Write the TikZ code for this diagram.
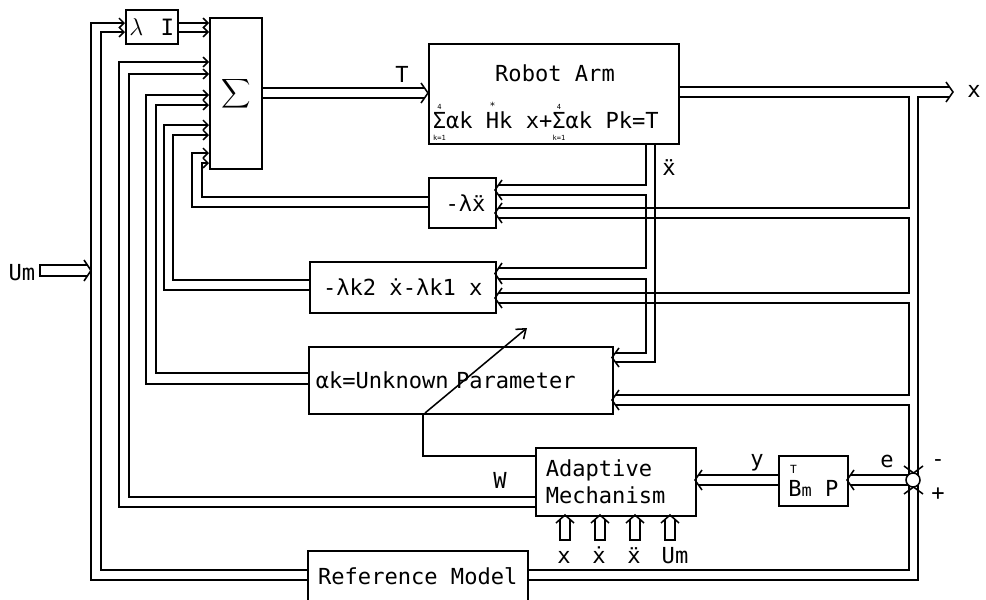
\documentclass[tikz,border=0pt]{standalone}
\usepackage{fontspec}
\usepackage{graphicx}
\setmainfont{DejaVu Sans Mono}
\usetikzlibrary{arrows.meta}
\def\pxu{0.025cm}
% pair chevrons: tip coordinate and the two line positions
\newcommand\chevR[3]{\draw (#1-7,#2-5) -- (#1,{(#2+#3)/2}) -- (#1-7,#3+5);}
\newcommand\chevL[3]{\draw (#1+7,#2-5) -- (#1,{(#2+#3)/2}) -- (#1+7,#3+5);}
\newcommand\chevD[3]{\draw (#1-5,#3-7) -- ({(#1+#2)/2},#3) -- (#2+5,#3-7);}
\newcommand\chevU[3]{\draw (#1-5,#3+7) -- ({(#1+#2)/2},#3) -- (#2+5,#3+7);}
\newcommand\plsum[2]{\ensuremath{\mathop{\mbox{Σ}}\limits^{\mbox{\tiny #1}}_{\mbox{\tiny\raisebox{-2.5pt}{#2}}}}}
\begin{document}
\begin{tikzpicture}[x=\pxu, y=-\pxu, line width=1.1pt,
  font=\fontsize{15.7}{19.2}\selectfont,
  box/.style={draw, inner sep=0pt, anchor=north west},
  barb/.style={-{Straight Barb[length=3.5pt,width=7pt]}},
  bigbarb/.style={-{Straight Barb[length=6pt,width=9pt]}},
  lbl/.style={inner sep=0pt, anchor=base}]
\useasboundingbox (0,0) rectangle (986,599);
\clip (0,0) rectangle (986,599);

% ---------- blocks ----------
\node[box, minimum width={52*\pxu}, minimum height={34*\pxu}] (lamI) at (125,9)
  {\fontsize{16}{16}\selectfont$\lambda\ \,\mathrm{I}$};
\node[box, minimum width={52*\pxu}, minimum height={151*\pxu}] (sigma) at (209,17)
  {\scalebox{1.45}{$\displaystyle\sum$}};
\node[box, minimum width={250*\pxu}, minimum height={100*\pxu}] (robot) at (428,43) {};
\node[inner sep=0pt] (robottitle) at (555,73) {Robot Arm};
\node[inner sep=0pt, anchor=west] (roboteq) at (432,121)
  {\plsum{4}{k=1}αk $\stackrel{\mbox{\scriptsize *}}{\mbox{H}}$k x+\plsum{4}{k=1}αk Pk=T};
\node[box, minimum width={67*\pxu}, minimum height={50*\pxu}] (lxdd) at (428,177) {\hspace{0.3em}-λẍ};
\node[box, minimum width={186*\pxu}, minimum height={51*\pxu}] (lk) at (309,261) {-λk2 ẋ-λk1 x};
\node[box, minimum width={304*\pxu}, minimum height={67*\pxu}, text width={290*\pxu},
  inner xsep={7*\pxu}, align=left] (unk) at (308,346) {αk=Unknown Parameter};
\node[box, minimum width={160*\pxu}, minimum height={68*\pxu}, text width={140*\pxu},
  inner xsep={10*\pxu}, align=left] (am) at (535,447) {Adaptive\\Mechanism};
\node[box, minimum width={69*\pxu}, minimum height={50*\pxu}] (bmp) at (778,455)
  {\raisebox{-2pt}{\rlap{\raisebox{16pt}{\fontsize{8}{8}\selectfont\,T}}B{\fontsize{12}{12}\selectfont m} P}};
\node[box, minimum width={220*\pxu}, minimum height={50*\pxu}] (ref) at (307,550) {Reference Model};
\node[circle, draw, minimum size={14*\pxu}, inner sep=0pt] (sum) at (913,480) {};

% ---------- labels ----------
\node[lbl] (lT) at (402,82) {T};
\node[lbl] (lxout) at (974,97) {x};
\node[lbl] (lxdd2) at (669,175) {ẍ};
\node[lbl] (lW) at (500,488) {W};
\node[lbl] (ly) at (757,466) {y};
\node[lbl] (le) at (887,467) {e};
\node[inner sep=0pt] (lminus) at (938,463) {-};
\node[inner sep=0pt] (lplus) at (938,494) {+};
\node[lbl] (lUm) at (22,280) {Um};
\node[lbl] (ax) at (564,563) {x};
\node[lbl] (axd) at (599,563) {ẋ};
\node[lbl] (axdd) at (634,563) {ẍ};
\node[lbl] (aum) at (675,563) {Um};

% ---------- Um input ----------
\draw (87,265) -- (40,265) -- (40,276) -- (87,276);
\draw (84,260) -- (91,270.5) -- (84,281);

% ---------- lambda I and Sigma ----------
\draw[barb] (lamI.east |- 0,23) -- (sigma.west |- 0,23);
\draw[barb] (lamI.east |- 0,32) -- (sigma.west |- 0,32);
\draw[barb] (ref.west |- 0,570) -- (101,570) -- (101,32) -- (lamI.west |- 0,32);
\draw[barb] (ref.west |- 0,580) -- (91,580) -- (91,23) -- (lamI.west |- 0,23);
\draw[barb] (am.west |- 0,497) -- (129,497) -- (129,74) -- (sigma.west |- 0,74);
\draw[barb] (am.west |- 0,507) -- (119,507) -- (119,62) -- (sigma.west |- 0,62);
\draw[barb] (unk.west |- 0,373) -- (156,373) -- (156,105) -- (sigma.west |- 0,105);
\draw[barb] (unk.west |- 0,384) -- (146,384) -- (146,95) -- (sigma.west |- 0,95);
\draw[barb] (lk.west |- 0,280) -- (173,280) -- (173,135) -- (sigma.west |- 0,135);
\draw[barb] (lk.west |- 0,290) -- (164,290) -- (164,125) -- (sigma.west |- 0,125);
\draw[barb] (lxdd.west |- 0,197) -- (202,197) -- (202,163) -- (sigma.west |- 0,163);
\draw[barb] (lxdd.west |- 0,207) -- (192,207) -- (192,153) -- (sigma.west |- 0,153);

% ---------- T into robot arm ----------
\draw (sigma.east |- 0,88) -- (425,88);
\draw (sigma.east |- 0,98) -- (425,98);
\chevR{428}{88}{98}

% ---------- x output and its branches ----------
\draw (robot.east |- 0,87) -- (950,87);
\draw (robot.east |- 0,97) -- (909,97) -- (909,208) -- (498,208);
\draw (950,97) -- (918,97) -- (918,475);
\chevR{953}{87}{97}
\draw (498,218) -- (909,218) -- (909,293) -- (498,293);
\draw (498,303) -- (909,303) -- (909,395) -- (615,395);
\draw (615,405) -- (909,405) -- (909,474);
\chevL{495}{208}{218}
\chevL{495}{293}{303}
\chevL{612}{395}{405}
\chevD{909}{918}{473}

% ---------- x double-dot output and its branches ----------
\draw (646,143) -- (646,185) -- (498,185);
\draw (498,195) -- (646,195) -- (646,268) -- (498,268);
\draw (498,279) -- (646,279) -- (646,353) -- (615,353);
\draw (615,362) -- (655,362) -- (655,143);
\chevL{495}{185}{195}
\chevL{495}{268}{279}
\chevL{612}{353}{362}

% ---------- reference model to junction ----------
\draw (ref.east |- 0,570) -- (909,570) -- (909,486);
\draw (ref.east |- 0,580) -- (918,580) -- (918,485);
\chevU{909}{918}{487}

% ---------- e and y ----------
\draw (908,475) -- (850,475);
\draw (908,485) -- (850,485);
\chevL{847}{475}{485}
\draw (bmp.west |- 0,475) -- (698,475);
\draw (bmp.west |- 0,485) -- (698,485);
\chevL{695}{475}{485}

% ---------- adaptation of parameters ----------
\draw (am.west |- 0,456) -- (423,456) -- (423,413);
\draw[bigbarb] (425,413) -- (527,328);

% ---------- inputs to adaptive mechanism ----------
\foreach \cx in {565,600,635,670}{
  \draw (\cx-5,520) -- (\cx-5,540) -- (\cx+5,540) -- (\cx+5,520);
  \draw (\cx-9,523) -- (\cx,515) -- (\cx+9,523);
}
\end{tikzpicture}
\end{document}
